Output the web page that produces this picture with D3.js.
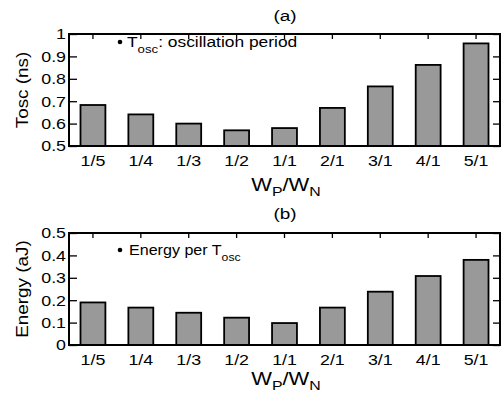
<!DOCTYPE html>
<html><head><meta charset="utf-8">
<script src="https://cdn.jsdelivr.net/npm/d3@7"></script>
<style>body{margin:0;background:#fff}svg{display:block;font-family:"Liberation Sans",Arial,sans-serif}</style>
</head><body><svg id="c" width="504" height="396"></svg>
<script>
const categories = ["1/5","1/4","1/3","1/2","1/1","2/1","3/1","4/1","5/1"];
const toscValues = [0.683, 0.641, 0.600, 0.570, 0.580, 0.670, 0.766, 0.862, 0.958];
const energyValues = [0.190, 0.167, 0.144, 0.122, 0.098, 0.167, 0.238, 0.308, 0.380];
const toscTicks = [0.5, 0.6, 0.7, 0.8, 0.9, 1];
const energyTicks = [0, 0.1, 0.2, 0.3, 0.4, 0.5];

const FONT = "'Liberation Sans', Arial, sans-serif";
const svg = d3.select("#c");
const L = 69, R = 500;
const x = d3.scaleBand().domain(categories).range([L, R]).paddingInner(0.48).paddingOuter(0.24);

function stretch(sel, sx) {
  sel.each(function () {
    const t = d3.select(this);
    const x0 = +t.attr("x") || 0;
    const pre = t.attr("data-pre") || "";
    t.attr("x", x0 / sx).attr("transform", `${pre} scale(${sx},1)`);
  });
}

function panel(cfg) {
  const y = d3.scaleLinear().domain(cfg.domain).range([cfg.bottom, cfg.top]);
  const g = svg.append("g");
  g.selectAll("rect.bar").data(cfg.values).join("rect")
    .attr("x", (d, i) => x(categories[i]))
    .attr("y", d => y(d))
    .attr("width", x.bandwidth())
    .attr("height", d => y(cfg.domain[0]) - y(d))
    .attr("fill", "#999999").attr("stroke", "#000").attr("stroke-width", 1.8);
  const ly = d3.axisLeft(y).tickValues(cfg.ticks).tickSize(-8).tickPadding(3).tickFormat(d3.format("~g"));
  const ga = g.append("g").attr("transform", `translate(${L},0)`).call(ly);
  ga.select(".domain").remove();
  ga.selectAll("line").attr("stroke-width", 1.3);
  ga.selectAll("text").attr("font-size", 15.5).attr("font-family", FONT).attr("fill", "#000").attr("x", -3).call(stretch, 1.15);
  const ry = d3.axisRight(y).tickValues(cfg.ticks).tickSize(-7).tickFormat("");
  const gr = g.append("g").attr("transform", `translate(${R},0)`).call(ry);
  gr.select(".domain").remove();
  gr.selectAll("line").attr("stroke-width", 1.3);
  const tx = d3.axisTop(x).tickSize(-5).tickFormat("");
  const gt = g.append("g").attr("transform", `translate(0,${cfg.top})`).call(tx);
  gt.select(".domain").remove();
  gt.selectAll("line").attr("stroke-width", 1.3);
  const bx = d3.axisBottom(x).tickSize(0).tickPadding(9);
  const gb = g.append("g").attr("transform", `translate(0,${cfg.bottom})`).call(bx);
  gb.select(".domain").remove();
  gb.selectAll("text").attr("font-size", 15.5).attr("font-family", FONT).attr("fill", "#000").call(stretch, 1.15);
  g.append("rect").attr("x", L).attr("y", cfg.top).attr("width", R - L).attr("height", cfg.bottom - cfg.top)
    .attr("fill", "none").attr("stroke", "#000").attr("stroke-width", 2);
  g.append("text").attr("x", 285).attr("y", cfg.titleY).attr("text-anchor", "middle").attr("font-size", 15.5)
    .text(cfg.title).call(stretch, 1.22);
  const xl = g.append("text").attr("x", 286).attr("y", cfg.xlabY).attr("text-anchor", "middle").attr("font-size", 18);
  xl.append("tspan").text("W");
  xl.append("tspan").attr("font-size", 13).attr("dy", 5).text("P");
  xl.append("tspan").attr("dy", -5).text("/W");
  xl.append("tspan").attr("font-size", 13).attr("dy", 5).text("N");
  xl.call(stretch, 1.22);
  g.append("text").attr("data-pre", `translate(28,${(cfg.top + cfg.bottom) / 2}) rotate(-90)`)
    .attr("text-anchor", "middle").attr("font-size", 16).text(cfg.ylabel).call(stretch, 1.18);
  g.append("circle").attr("cx", 120).attr("cy", cfg.legY - 5).attr("r", 2.3).attr("fill", "#000");
  const lt = g.append("text").attr("x", cfg.legX).attr("y", cfg.legY).attr("font-size", 14.5);
  cfg.legend(lt);
  lt.call(stretch, cfg.legStretch);
}

panel({
  domain: [0.5, 1], ticks: toscTicks, values: toscValues, top: 34, bottom: 146,
  title: "(a)", titleY: 21, xlabY: 191, ylabel: "Tosc (ns)", legY: 47, legX: 127, legStretch: 1.2,
  legend: t => {
    t.append("tspan").text("T");
    t.append("tspan").attr("font-size", 11).attr("dy", 6).text("osc");
    t.append("tspan").attr("dy", -6).text(": oscillation period");
  }
});
panel({
  domain: [0, 0.5], ticks: energyTicks, values: energyValues, top: 233, bottom: 345,
  title: "(b)", titleY: 219, xlabY: 385, ylabel: "Energy (aJ)", legY: 255, legX: 129, legStretch: 1.11,
  legend: t => {
    t.append("tspan").text("Energy per T");
    t.append("tspan").attr("font-size", 11).attr("dy", 6).text("osc");
  }
});
</script></body></html>
